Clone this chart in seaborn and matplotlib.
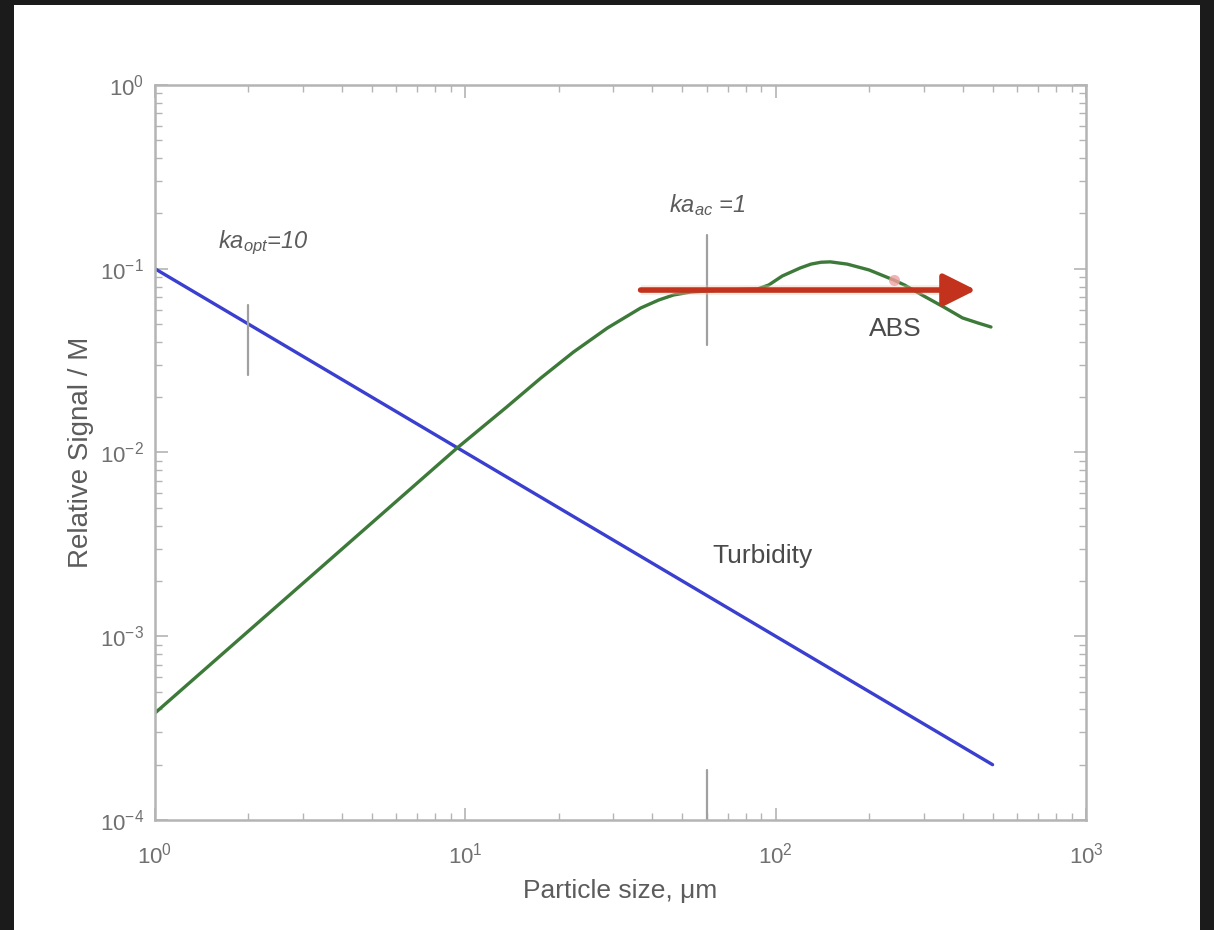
import matplotlib
matplotlib.use("Agg")
import matplotlib.pyplot as plt
import seaborn as sns
import numpy as np
from matplotlib.patches import Rectangle
from matplotlib.ticker import LogLocator, LogFormatterSciNotation, NullFormatter

# Turbidity signal (falls as 1/size)
turb_size = [1.0, 500.0]
turb_signal = [0.1, 0.0002]

# Acoustic backscatter (ABS) signal
abs_size = [1.0, 3.16, 9.42, 13.6, 17.5, 22.3, 28.7, 36.7, 42.0, 46.9, 53.2,
            60.0, 66.5, 75.0, 87.5, 95.0, 105.0, 120.0, 130.0, 140.0, 150.0,
            170.0, 200.0, 240.0, 260.0, 300.0, 348.0, 400.0, 450.0, 494.0]
abs_signal = [3.82e-4, 2.10e-3, 1.06e-2, 1.77e-2, 2.54e-2, 3.52e-2, 4.76e-2,
              6.11e-2, 6.76e-2, 7.20e-2, 7.47e-2, 7.56e-2, 7.66e-2, 7.70e-2,
              7.76e-2, 8.16e-2, 9.13e-2, 1.01e-1, 1.06e-1, 1.085e-1, 1.09e-1,
              1.06e-1, 9.85e-2, 8.69e-2, 8.16e-2, 7.11e-2, 6.19e-2, 5.40e-2,
              5.06e-2, 4.82e-2]

# Reference markers: ka_opt = 10 and ka_ac = 1
ka_opt_size = 2.0
ka_opt_span = [0.0264, 0.0635]
ka_ac_size = 60.0
ka_ac_span = [0.0385, 0.153]
ka_ac_span_low = [1.0e-4, 1.87e-4]

# Arrow showing the ABS working range
arrow_start = 36.7
arrow_end = 442.0
arrow_level = 0.0766
spot_size = 240.0
spot_level = 0.087

sns.set_theme(style="white")
plt.rcParams["font.family"] = ["Liberation Sans", "DejaVu Sans"]
plt.rcParams["mathtext.fontset"] = "custom"
plt.rcParams["mathtext.rm"] = "Liberation Sans"
plt.rcParams["mathtext.it"] = "Liberation Sans:italic"
plt.rcParams["mathtext.default"] = "regular"

axis_grey = "#b4b4b4"
text_grey = "#5c5c5c"
tick_grey = "#707070"

fig = plt.figure(figsize=(12.14, 9.30), dpi=100, facecolor="white")
ax = fig.add_axes([155 / 1214, 1 - 820 / 930, 931 / 1214, 735 / 930])
ax.set_xscale("log")
ax.set_yscale("log")

sns.lineplot(x=turb_size, y=turb_signal, ax=ax, color="#3a3fd0", lw=2.4)
sns.lineplot(x=abs_size, y=abs_signal, ax=ax, color="#3d7a3a", lw=2.4)

# ka markers
ax.plot([ka_opt_size, ka_opt_size], ka_opt_span, color="#a0a0a0", lw=1.6)
ax.plot([ka_ac_size, ka_ac_size], ka_ac_span, color="#a0a0a0", lw=1.6)
ax.plot([ka_ac_size, ka_ac_size], ka_ac_span_low, color="#a0a0a0", lw=1.6)

# arrow with a faint glow
ax.plot([arrow_start, arrow_end * 0.93], [arrow_level, arrow_level],
        color="#f6c2a8", lw=7, alpha=0.35, solid_capstyle="butt", zorder=4)
ax.annotate("", xy=(arrow_end, arrow_level), xytext=(arrow_start, arrow_level),
            arrowprops=dict(arrowstyle="-|>,head_length=1.0,head_width=0.5",
                            color="#c2321c", lw=4.0, mutation_scale=20,
                            shrinkA=0, shrinkB=0),
            zorder=5)
ax.plot([spot_size], [spot_level], "o", color="#f2a0a0", ms=8, alpha=0.8,
        markeredgewidth=0, zorder=6)

ax.set_xlim(1, 1000)
ax.set_ylim(1e-4, 1)

ax.xaxis.set_major_locator(LogLocator(base=10, numticks=10))
ax.yaxis.set_major_locator(LogLocator(base=10, numticks=10))
ax.xaxis.set_minor_locator(LogLocator(base=10, subs=np.arange(2, 10), numticks=20))
ax.yaxis.set_minor_locator(LogLocator(base=10, subs=np.arange(2, 10), numticks=20))
ax.xaxis.set_major_formatter(LogFormatterSciNotation())
ax.yaxis.set_major_formatter(LogFormatterSciNotation())
ax.xaxis.set_minor_formatter(NullFormatter())
ax.yaxis.set_minor_formatter(NullFormatter())

ax.tick_params(which="both", direction="in", top=True, right=True,
               bottom=True, left=True, color=axis_grey, labelcolor=tick_grey)
ax.tick_params(which="major", length=9, width=1.2, labelsize=16)
ax.tick_params(which="minor", length=5, width=1.0)
ax.tick_params(axis="x", which="major", pad=16)
ax.tick_params(axis="y", which="major", pad=8)
for sp in ax.spines.values():
    sp.set_color(axis_grey)
    sp.set_linewidth(1.8)

ax.set_xlabel("Particle size, \u03bcm", fontsize=19, color=text_grey, labelpad=8)
ax.set_ylabel("Relative Signal / M", fontsize=20, color=text_grey, labelpad=4)

ax.text(1.6, 0.13, r"$ka_{opt}$=10", fontsize=17, fontstyle="italic",
        color=text_grey, ha="left", va="baseline")
ax.text(45.2, 0.204, r"$ka_{ac}$ =1", fontsize=17, fontstyle="italic",
        color=text_grey, ha="left", va="baseline")
ax.text(200, 0.043, "ABS", fontsize=19, color="#4a4a4a", ha="left", va="baseline")
ax.text(62.6, 0.0025, "Turbidity", fontsize=19, color="#4a4a4a",
        ha="left", va="baseline")

# dark frame along the left, top and right edges
frame = "#1b1b1b"
for (x0, y0, w, h) in [(0, 0, 14 / 1214, 1), (1 - 14 / 1214, 0, 14 / 1214, 1),
                       (0, 1 - 5 / 930, 1, 5 / 930)]:
    fig.add_artist(Rectangle((x0, y0), w, h, transform=fig.transFigure,
                             facecolor=frame, edgecolor="none", zorder=10))

fig.savefig("out.png", dpi=100, facecolor="white")
